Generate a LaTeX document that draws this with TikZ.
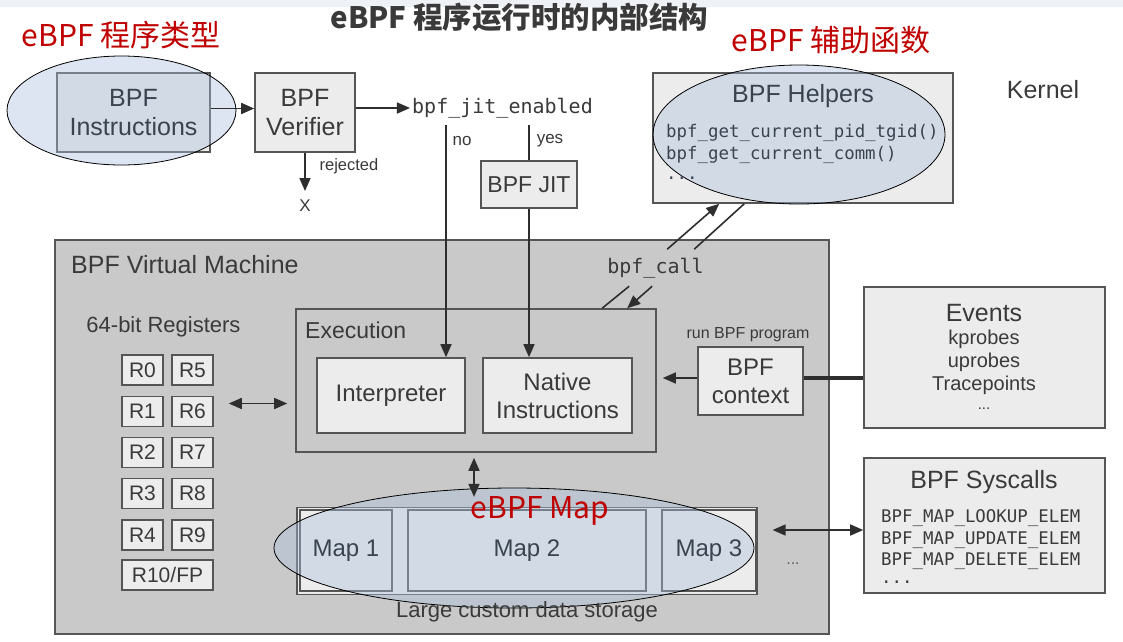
\documentclass[tikz,border=0pt]{standalone}
\usepackage{fontspec}
\setmainfont{Liberation Sans}
\setmonofont{DejaVu Sans Mono}
\newfontfamily\cjk{Noto Sans CJK SC}
\usetikzlibrary{arrows.meta,shapes.geometric,calc}
\definecolor{txt}{HTML}{3A3A3A}
\definecolor{txtb}{HTML}{3A4450}
\definecolor{bord}{HTML}{555555}
\definecolor{linec}{HTML}{2E2E2E}
\definecolor{lightbox}{HTML}{ECECEC}
\definecolor{vmfill}{HTML}{C9C9C9}
\definecolor{redlab}{HTML}{C00000}
\definecolor{ellblue}{HTML}{A9C0DC}
\definecolor{topstrip}{HTML}{EEF1F5}
\newcommand{\fsz}[2]{\fontsize{#1}{#2}\selectfont}
\begin{document}
\begin{tikzpicture}[x=1pt,y=-1pt,
  box/.style={draw=bord, line width=1.6pt, fill=lightbox, text=txt, inner sep=0pt, align=center},
  vmbox/.style={box, fill=vmfill},
  lab/.style={text=txt, inner sep=1pt, align=center},
  blab/.style={text=txtb, inner sep=1pt, align=center},
  mono/.style={text=txt, inner sep=1pt, font=\ttfamily\fsz{17.4}{20}},
  bmono/.style={mono, text=txtb},
  arr/.style={draw=linec, line width=1.6pt, -{Triangle[length=13pt,width=11pt]}},
  darr/.style={draw=linec, line width=1.6pt, {Triangle[length=13pt,width=11pt]}-{Triangle[length=13pt,width=11pt]}},
  plain/.style={draw=linec, line width=1.6pt},
  hilite/.style={ellipse, draw=black, line width=0.8pt, fill=ellblue, fill opacity=0.4, inner sep=0pt},
  redtxt/.style={text=redlab, inner sep=0pt, font=\cjk\fsz{30}{34}},
  reg/.style={box, line width=1.5pt, minimum width=41, minimum height=30, font=\fsz{21}{24}}
]
\useasboundingbox (0,0) rectangle (1123,641);
\fill[white] (0,0) rectangle (1123,641);
\fill[topstrip] (0,0) rectangle (1123,7);

% title
\node[text=txt, inner sep=0pt, font=\cjk\bfseries\fsz{29.5}{33}] (title) at (519.5,17) {eBPF 程序运行时的内部结构};

% top row
\node[box, minimum width=153, minimum height=79] (instr) at (133.5,112.5) {};
\node[hilite, minimum width=229, minimum height=109] (e1) at (121.5,110.5) {};
\node[blab, font=\fsz{25}{29}] (instrT) at (instr.center) {BPF\\Instructions};
\node[box, minimum width=100, minimum height=79, font=\fsz{25}{29}] (verif) at (305,112.5) {BPF\\Verifier};
\node[mono, inner sep=2pt, font=\ttfamily\fsz{20}{22}] (jitt) at (502.5,108) {bpf\_jit\_enabled};
\node[box, minimum width=96, minimum height=47, font=\fsz{23}{26}] (jit) at (529,184.5) {BPF JIT};
\node[lab, font=\fsz{17}{20}] (rejX) at (305,206) {X};
\node[lab, font=\fsz{16.5}{19}] (rejL) at (349,166) {rejected};

% helpers and kernel
\node[box, minimum width=300, minimum height=130] (helpers) at (803,138) {};
\node[hilite, minimum width=292, minimum height=139] (e2) at (799,134.5) {};
\node[blab, font=\fsz{25}{29}] (helpT) at (803,96) {BPF Helpers};
\node[bmono, anchor=west] (h1) at (665,133) {bpf\_get\_current\_pid\_tgid()};
\node[bmono, anchor=west] (h2) at (665,155) {bpf\_get\_current\_comm()};
\node[bmono, anchor=west] (h3) at (665,178) {...};
\node[lab, font=\fsz{25}{29}] (kernel) at (1043,90) {Kernel};

% virtual machine
\node[vmbox, minimum width=774, minimum height=394] (vm) at (442,437) {};
\node[lab, anchor=west, font=\fsz{25}{29}] (vmT) at (70,265) {BPF Virtual Machine};
\node[mono, font=\ttfamily\fsz{20}{22}] (bcall) at (655.5,268) {bpf\_call};

\node[vmbox, minimum width=360, minimum height=143] (exec) at (476,380.5) {};
\node[lab, anchor=west, font=\fsz{23}{26}] (execT) at (304,330) {Execution};
\node[box, minimum width=148, minimum height=75, font=\fsz{24}{28}] (interp) at (391,395.5) {Interpreter};
\node[box, minimum width=149, minimum height=75, font=\fsz{24}{28}] (native) at (557.5,395.5) {Native\\Instructions};
\node[lab, font=\fsz{17}{20}] (noL) at (462,141) {no};
\node[lab, font=\fsz{17}{20}] (yesL) at (550,141) {yes};

% registers
\node[lab, font=\fsz{22}{26}] (regT) at (163.5,327) {64-bit Registers};
\node[reg] (r0) at (142.5,370) {R0};
\node[reg] (r5) at (192.5,370) {R5};
\node[reg] (r1) at (142.5,411.5) {R1};
\node[reg] (r6) at (192.5,411.5) {R6};
\node[reg] (r2) at (142.5,452.5) {R2};
\node[reg] (r7) at (192.5,452.5) {R7};
\node[reg] (r3) at (142.5,493.5) {R3};
\node[reg] (r8) at (192.5,493.5) {R8};
\node[reg] (r4) at (142.5,535) {R4};
\node[reg] (r9) at (192.5,535) {R9};
\node[reg, minimum width=91] (r10) at (167.5,575) {R10/FP};

% context and events
\node[box, minimum width=105, minimum height=68, font=\fsz{24}{28}] (ctx) at (750.5,381) {BPF\\context};
\node[lab, font=\fsz{16}{19}] (runL) at (748,335) {run BPF program};
\node[box, minimum width=241, minimum height=141] (events) at (984.5,357.5) {};
\node[lab, font=\fsz{25}{29}] (evT) at (984,313) {Events};
\node[lab, font=\fsz{20}{23}] (ev1) at (984,339) {kprobes};
\node[lab, font=\fsz{20}{23}] (ev2) at (984,362) {uprobes};
\node[lab, font=\fsz{20}{23}] (ev3) at (984,385) {Tracepoints};
\node[lab, font=\fsz{15}{18}] (ev4) at (984,409) {...};

% syscalls
\node[box, minimum width=241, minimum height=135] (sys) at (984.5,525.5) {};
\node[lab, font=\fsz{25}{29}] (sysT) at (984,482) {BPF Syscalls};
\node[mono, anchor=west] (s1) at (880,518) {BPF\_MAP\_LOOKUP\_ELEM};
\node[mono, anchor=west] (s2) at (880,540) {BPF\_MAP\_UPDATE\_ELEM};
\node[mono, anchor=west] (s3) at (880,561) {BPF\_MAP\_DELETE\_ELEM};
\node[mono, anchor=west] (s4) at (880,582) {...};

% maps
\node[box, line width=1.2pt, minimum width=460, minimum height=87] (maps) at (527,551) {};
\node[box, minimum width=92, minimum height=81] (m1) at (346,550.5) {};
\node[box, minimum width=238, minimum height=81] (m2) at (527,550.5) {};
\node[box, minimum width=94, minimum height=81] (m3) at (709,550.5) {};
\node[hilite, minimum width=480, minimum height=120] (e3) at (514,548) {};
\node[blab, font=\fsz{24}{28}] (m1T) at (m1.center) {Map 1};
\node[blab, font=\fsz{24}{28}] (m2T) at (m2.center) {Map 2};
\node[blab, font=\fsz{24}{28}] (m3T) at (m3.center) {Map 3};
\node[lab, font=\fsz{22}{26}] (storeL) at (527,612) {Large custom data storage};
\node[lab, text=txt!80, font=\fsz{16}{19}] (mdots) at (793,564) {...};

% connectors
\draw[arr] ([yshift=4pt]instr.east) -- ([yshift=4pt]verif.west);
\draw[arr] (verif.east |- jitt.west) -- (jitt.west);
\coordinate (rejEnd) at (305,191);
\draw[arr] (verif.south) -- (rejEnd);

\coordinate (noTop) at (446,125);
\coordinate (yesTop) at (529,125);
\draw[arr] (noTop) -- (noTop |- interp.north);
\draw[plain] (yesTop) -- (jit.north);
\draw[arr] (jit.south) -- (jit.south |- native.north);

\draw[arr] ($(exec.north west)+(372,-59)$) -- ($(helpers.south west)+(67,0)$);
\draw[plain] ($(exec.north west)+(399,-59)$) -- ($(helpers.south west)+(92,0)$);
\draw[plain] ($(exec.north west)+(307,0)$) -- ($(exec.north west)+(334,-22)$);
\draw[arr] ($(exec.north west)+(357,-22)$) -- ($(exec.north west)+(332,0)$);

\draw[darr] ([xshift=15pt,yshift=8pt]r6.east) -- ([xshift=-8pt,yshift=8pt]r6.east -| exec.west);
\draw[arr] ([yshift=3pt]ctx.west) -- ([xshift=6pt,yshift=3pt]ctx.west -| exec.east);
\draw[draw=linec, line width=3.5pt] ([yshift=3pt]ctx.east) -- ([yshift=3pt]ctx.east -| events.west);

\draw[darr] ($(exec.south)+(-2,5)$) -- ($(maps.north)+(-53,-10)$);
\coordinate (mapR) at ($(maps.east)+(15,-21)$);
\draw[darr] (mapR) -- (mapR -| sys.west);

% red labels
\node[redtxt] (lab1) at (121,35) {eBPF 程序类型};
\node[redtxt] (lab2) at (831,40) {eBPF 辅助函数};
\node[redtxt] (lab3) at (540,511) {eBPF Map};
\end{tikzpicture}
\end{document}
